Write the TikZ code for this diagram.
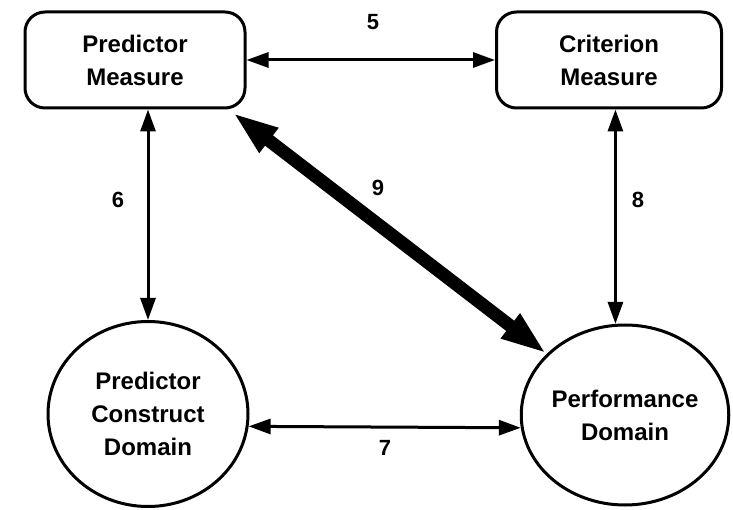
\documentclass[tikz,border=0pt]{standalone}
\usepackage{fontspec}
\setmainfont{Liberation Sans}
\usetikzlibrary{arrows.meta,shapes.geometric}
\begin{document}
\begin{tikzpicture}[x=1pt,y=-1pt,
  txt/.style={font=\fontsize{24}{33}\selectfont\bfseries, align=center},
  mbox/.style={txt, draw, line width=3pt, rounded corners=20pt, minimum width=220pt, minimum height=96pt},
  dom/.style={txt, draw, ellipse, line width=3pt, inner sep=0pt},
  link/.style={line width=3pt, {Triangle[length=22pt,width=15pt]}-{Triangle[length=22pt,width=15pt]}},
  biglink/.style={line width=13pt, {Triangle[length=46pt,width=28pt]}-{Triangle[length=46pt,width=28pt]}},
  num/.style={font=\fontsize{22}{26}\selectfont\bfseries}]
\useasboundingbox (0,0) rectangle (733,510);
\node[mbox] (pm) at (135,60) {Predictor\\Measure};
\node[mbox, minimum width=225pt] (cm) at (609,60) {Criterion\\Measure};
\node[dom, minimum width=200pt, minimum height=185pt] (pcd) at (148,414) {Predictor\\Construct\\Domain};
\node[dom, minimum width=192pt, minimum height=180pt] (pd) at (625,415) {Performance\\Domain};
\draw[link] (pm.east) -- (cm.west);
\draw[link] (pcd.north |- pm.south) -- (pcd.north);
\draw[link] (pd.96 |- cm.south) -- (pd.96);
\draw[link] (pcd.-7) -- (pd.187);
\coordinate (c9) at ([xshift=-14pt,yshift=-3pt]pm.south east);
\draw[biglink] (c9) -- (pd.142);
\node[num] (n5) at (373,22) {5};
\node[num] (n6) at (118,200) {6};
\node[num] (n7) at (385,448) {7};
\node[num] (n8) at (638,200) {8};
\node[num] (n9) at (378,188) {9};
\end{tikzpicture}
\end{document}
